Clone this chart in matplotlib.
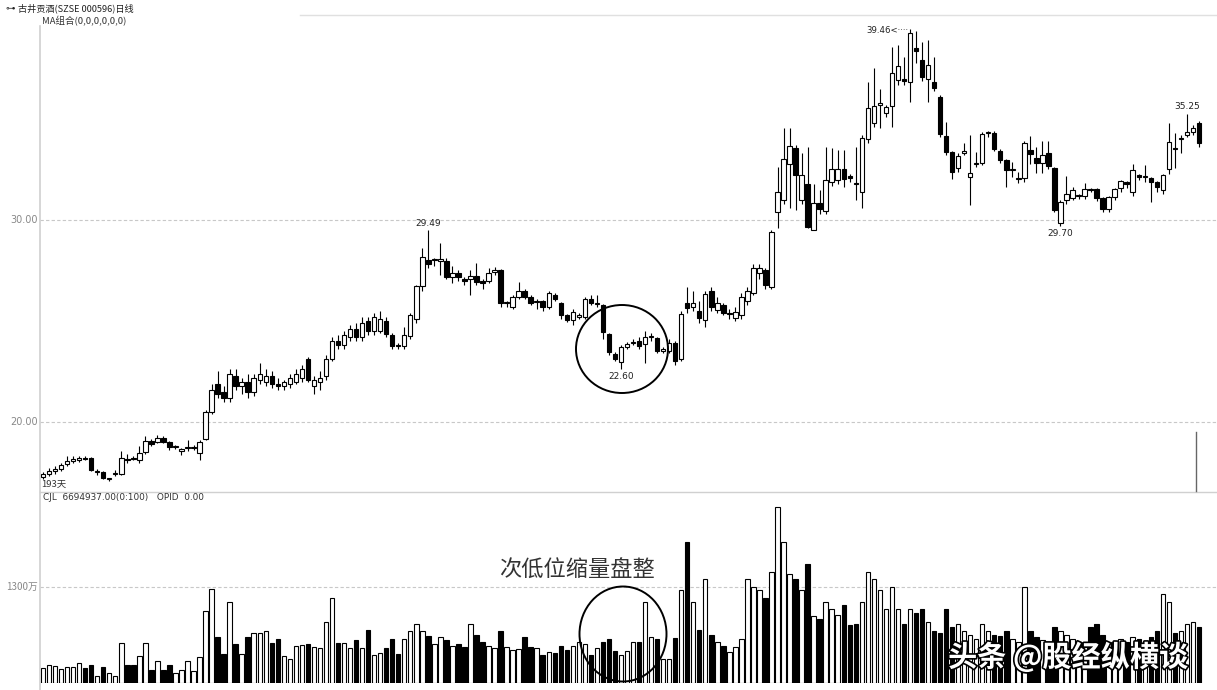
import matplotlib
matplotlib.use('Agg')
import matplotlib.pyplot as plt
from matplotlib.patches import Rectangle, Ellipse
import matplotlib.patheffects as pe

CJK = ['Noto Sans CJK SC', 'DejaVu Sans']

# ---------------- data (price in yuan, volume in 万 shares) ----------------
opens = [17.28, 17.45, 17.55, 17.65, 17.9, 18.05, 18.1, 18.2, 18.2, 17.5,
         17.5, 17.18, 17.42, 17.45, 18.15, 18.2, 18.1, 18.5, 19.05, 19.0,
         19.2, 19.0, 18.75, 18.55, 18.7, 18.7, 18.45, 19.15, 20.5, 21.9,
         21.5, 21.2, 22.3, 21.8, 22.0, 21.5, 22.1, 22.0, 22.3, 21.9,
         21.8, 21.9, 22.0, 22.2, 23.1, 21.8, 22.0, 22.3, 23.1, 24.0,
         23.8, 24.2, 24.6, 24.2, 25.0, 24.5, 24.5, 25.0, 24.3, 23.8,
         23.76, 24.26, 25.1, 26.73, 28.02, 28.0, 27.97, 27.97, 27.2, 27.4,
         27.1, 27.08, 27.23, 27.0, 27.0, 27.45, 27.5, 25.9, 25.7, 26.2,
         26.5, 26.2, 25.95, 26.0, 25.7, 26.3, 25.9, 25.3, 25.05, 25.2,
         25.2, 26.1, 25.85, 25.8, 24.35, 23.37, 22.97, 23.7, 23.9, 24.0,
         23.86, 24.2, 24.15, 23.5, 23.5, 23.9, 23.1, 25.9, 25.7, 25.5,
         25.05, 26.5, 25.55, 25.8, 25.35, 25.15, 25.3, 26.0, 26.4, 27.4,
         27.5, 26.7, 30.4, 30.99, 32.77, 33.56, 30.99, 31.78, 29.5, 30.84,
         30.45, 31.88, 31.98, 32.52, 32.18, 31.83, 31.39, 34.0, 34.8, 35.69,
         35.3, 35.64, 36.93, 36.98, 36.83, 38.51, 37.92, 36.98, 36.83, 36.09,
         34.16, 33.37, 32.57, 33.32, 32.13, 32.77, 32.82, 34.3, 34.31, 33.42,
         32.97, 32.48, 32.03, 32.08, 33.47, 33.07, 32.82, 33.32, 32.57, 29.85,
         30.99, 31.09, 31.19, 31.19, 31.53, 31.53, 31.09, 30.54, 31.14, 31.58,
         31.88, 31.39, 32.23, 32.13, 32.08, 31.88, 31.49, 32.52, 33.56, 34.01,
         34.2, 34.36, 34.8]
closes = [17.43, 17.55, 17.65, 17.85, 18.05, 18.15, 18.2, 18.17, 17.6, 17.55,
          17.25, 17.22, 17.47, 18.2, 18.1, 18.17, 18.45, 19.05, 18.9, 19.2,
          19.0, 18.75, 18.78, 18.65, 18.72, 18.72, 19.0, 20.5, 21.6, 21.4,
          21.2, 22.4, 21.8, 22.0, 21.5, 22.2, 22.4, 22.3, 21.9, 21.8,
          22.0, 22.2, 22.4, 22.6, 22.1, 22.1, 22.2, 23.1, 24.0, 23.8,
          24.3, 24.6, 24.2, 24.9, 24.5, 25.2, 25.1, 24.35, 23.76, 23.75,
          24.3, 25.3, 26.73, 28.17, 27.82, 28.05, 28.07, 27.18, 27.4, 27.17,
          26.98, 27.23, 26.93, 26.9, 27.4, 27.5, 25.9, 25.95, 26.2, 26.5,
          26.2, 25.9, 25.95, 25.7, 26.4, 26.1, 25.3, 25.05, 25.45, 25.3,
          26.1, 25.9, 25.85, 24.45, 23.45, 23.12, 23.7, 23.85, 23.9, 23.75,
          24.2, 24.22, 23.5, 23.6, 23.9, 23.0, 25.35, 25.65, 25.9, 25.15,
          26.35, 25.7, 25.9, 25.4, 25.38, 25.45, 26.2, 26.5, 27.6, 27.6,
          26.8, 29.4, 31.39, 33.02, 33.66, 32.23, 32.23, 29.65, 30.84, 30.54,
          31.98, 32.52, 32.52, 32.03, 32.08, 31.8, 34.06, 35.54, 35.64, 35.79,
          35.6, 37.28, 37.62, 36.88, 39.26, 38.37, 37.08, 37.67, 36.53, 34.26,
          33.37, 32.38, 33.17, 33.42, 32.33, 32.8, 34.26, 34.32, 33.51, 32.97,
          32.48, 32.5, 32.05, 33.81, 33.27, 32.82, 33.22, 32.67, 30.5, 30.89,
          31.29, 31.49, 31.22, 31.53, 31.49, 31.09, 30.54, 31.14, 31.53, 31.93,
          31.78, 32.48, 32.13, 32.15, 31.88, 31.63, 32.23, 33.86, 33.5, 34.06,
          34.36, 34.55, 33.81]
highs = [17.5, 17.7, 17.8, 17.95, 18.3, 18.3, 18.3, 18.3, 18.25, 17.65,
         17.55, 17.25, 17.6, 18.55, 18.4, 18.3, 18.8, 19.3, 19.15, 19.35,
         19.3, 19.05, 18.85, 18.7, 19.1, 18.85, 19.1, 20.6, 21.9, 22.5,
         21.8, 22.6, 22.6, 22.2, 22.4, 22.4, 22.9, 22.6, 22.5, 22.2,
         22.1, 22.4, 22.6, 22.8, 23.2, 22.3, 22.5, 23.3, 24.2, 24.3,
         24.5, 24.8, 24.9, 25.2, 25.2, 25.4, 25.5, 25.2, 24.4, 23.9,
         24.7, 25.4, 26.8, 28.6, 29.49, 28.1, 28.85, 28.1, 27.7, 27.5,
         27.2, 27.5, 27.87, 27.1, 27.6, 27.65, 27.55, 26.0, 26.3, 26.93,
         26.6, 26.3, 26.1, 26.05, 26.5, 26.4, 25.95, 25.35, 25.6, 25.4,
         26.2, 26.3, 26.3, 25.85, 24.4, 23.45, 23.8, 23.95, 24.1, 24.2,
         24.5, 24.4, 24.2, 23.7, 24.1, 24.0, 25.5, 26.7, 26.5, 26.0,
         26.5, 26.7, 26.2, 25.9, 25.6, 25.7, 26.4, 26.7, 27.8, 27.8,
         27.6, 29.5, 32.6, 34.55, 34.55, 33.7, 33.3, 33.6, 31.8, 31.5,
         33.6, 33.56, 33.47, 33.47, 32.3, 33.6, 34.2, 36.83, 37.5, 36.5,
         35.7, 38.56, 38.66, 38.07, 39.46, 39.36, 38.81, 38.9, 38.07, 36.2,
         34.85, 33.4, 33.3, 33.81, 34.2, 33.37, 34.35, 34.4, 34.4, 33.5,
         33.0, 32.87, 32.38, 33.9, 34.16, 33.61, 33.91, 33.91, 32.6, 31.0,
         32.18, 31.63, 31.3, 31.83, 31.6, 31.6, 31.15, 31.2, 31.6, 32.0,
         31.95, 32.77, 32.3, 32.72, 32.15, 31.95, 32.3, 34.8, 34.3, 34.2,
         35.25, 34.7, 34.9]
lows = [17.2, 17.35, 17.45, 17.55, 17.8, 17.95, 18.0, 18.1, 17.55, 17.4,
        17.2, 17.1, 17.35, 17.4, 17.95, 18.1, 17.95, 18.4, 18.8, 18.95,
        18.95, 18.6, 18.65, 18.35, 18.55, 18.6, 18.1, 19.1, 20.4, 21.2,
        21.0, 21.0, 21.6, 21.4, 21.2, 21.3, 21.9, 21.8, 21.7, 21.6,
        21.6, 21.7, 21.9, 22.0, 22.0, 21.4, 21.6, 22.1, 23.0, 23.6,
        23.6, 24.0, 24.0, 24.0, 24.3, 24.3, 24.4, 24.2, 23.6, 23.6,
        23.6, 24.1, 24.9, 26.5, 27.6, 27.7, 27.3, 27.1, 26.9, 27.0,
        26.8, 26.3, 26.8, 26.6, 26.9, 27.3, 25.7, 25.7, 25.6, 26.1,
        26.1, 25.8, 25.6, 25.5, 25.6, 26.0, 25.1, 24.95, 24.8, 25.1,
        25.1, 25.8, 25.7, 24.1, 23.3, 23.0, 22.6, 23.6, 23.8, 23.6,
        22.9, 24.0, 23.4, 23.4, 23.4, 22.8, 23.0, 25.4, 25.5, 24.9,
        24.7, 25.5, 25.4, 25.3, 25.1, 25.0, 25.1, 25.8, 26.3, 27.1,
        26.6, 26.6, 29.6, 30.8, 30.6, 30.5, 30.8, 29.6, 29.5, 30.3,
        30.3, 31.7, 31.8, 31.63, 31.9, 30.99, 30.6, 33.8, 34.6, 34.55,
        35.1, 34.6, 36.7, 36.7, 35.84, 37.77, 36.9, 35.84, 36.4, 34.1,
        33.2, 32.03, 32.4, 33.2, 30.74, 32.6, 32.7, 34.1, 33.4, 32.8,
        31.63, 32.13, 31.83, 31.9, 32.77, 32.33, 32.33, 32.5, 30.4, 29.70,
        30.8, 31.0, 31.05, 31.05, 31.4, 30.95, 30.4, 30.4, 31.0, 31.4,
        31.6, 31.2, 32.0, 31.9, 30.89, 31.4, 31.3, 32.3, 32.57, 33.3,
        34.1, 34.2, 33.6]
volumes = [200, 240, 230, 190, 220, 220, 270, 200, 240, 90,
           210, 140, 90, 540, 240, 240, 370, 540, 170, 300,
           180, 240, 140, 180, 300, 160, 350, 970, 1270, 620,
           390, 1090, 520, 390, 620, 670, 670, 700, 540, 600,
           370, 330, 500, 510, 520, 480, 470, 820, 1150, 540,
           540, 470, 580, 470, 720, 380, 400, 470, 600, 390,
           600, 700, 790, 700, 640, 520, 620, 580, 500, 520,
           480, 800, 650, 560, 500, 470, 700, 480, 450, 460,
           620, 480, 470, 380, 420, 410, 500, 450, 500, 560,
           520, 380, 470, 560, 600, 430, 380, 430, 560, 560,
           1100, 620, 600, 330, 320, 610, 1250, 1900, 1100, 720,
           1400, 650, 560, 500, 420, 480, 600, 1400, 1300, 1250,
           1150, 1500, 2370, 1900, 1470, 1400, 1250, 1600, 900, 860,
           1100, 1000, 920, 1050, 780, 800, 1100, 1500, 1400, 1250,
           1000, 1300, 1000, 800, 1000, 950, 1000, 820, 700, 680,
           1000, 760, 800, 700, 650, 600, 800, 700, 650, 640,
           700, 600, 560, 1300, 700, 620, 580, 550, 750, 700,
           650, 600, 560, 520, 750, 800, 650, 560, 560, 600,
           560, 620, 600, 550, 620, 700, 1200, 1100, 680, 700,
           800, 830, 750]

price_ticks = [20.0, 30.0]
price_tick_labels = ['20.00', '30.00']
vol_tick = 1300
vol_tick_label = '1300万'
marks = [(64, '29.49', 'high'), (96, '22.60', 'low'), (169, '29.70', 'low'), (190, '35.25', 'high')]
peak_index, peak_label = 144, '39.46'

n = len(opens)
assert len(closes) == n and len(highs) == n and len(lows) == n and len(volumes) == n

# ---------------- figure ----------------
W, H = 1217, 690
fig = plt.figure(figsize=(W / 100, H / 100), dpi=100)

def fx(px):
    return px / W

def fy(py):
    return 1 - py / H

left_px, right_px = 40, 1217
top_px, mid_px, bot_px = 14, 491, 683

ax1 = fig.add_axes([fx(left_px), fy(mid_px), fx(right_px - left_px), (mid_px - top_px) / H])
ax2 = fig.add_axes([fx(left_px), fy(bot_px), fx(right_px - left_px), (bot_px - mid_px) / H])

xmin, xmax = -0.5, 195.0
ax1.set_xlim(xmin, xmax)
ax2.set_xlim(xmin, xmax)
ax1.set_ylim(16.584, 40.198)
ax2.set_ylim(0, (bot_px - mid_px) / 96.3 * 1300)

for ax in (ax1, ax2):
    for s in ax.spines.values():
        s.set_visible(False)
    ax.set_xticks([])
    ax.set_yticks([])
    ax.patch.set_alpha(0)

bw = 0.74
for i in range(n):
    o, h, l, c = opens[i], highs[i], lows[i], closes[i]
    up = c >= o
    ax1.vlines(i, l, h, color='black', lw=0.8, zorder=2)
    bottom = min(o, c)
    height = max(abs(c - o), 0.05)
    ax1.add_patch(Rectangle((i - bw / 2, bottom), bw, height,
                            facecolor='white' if up else 'black',
                            edgecolor='black', lw=0.8, zorder=3))
    ax2.add_patch(Rectangle((i - bw / 2, 0), bw, volumes[i],
                            facecolor='white' if up else 'black',
                            edgecolor='black', lw=0.8, zorder=3))

# grid lines
for t in price_ticks:
    ax1.axhline(t, color='#c8c8c8', lw=0.8, ls=(0, (3, 2)), zorder=0)
ax2.axhline(vol_tick, color='#c8c8c8', lw=0.8, ls=(0, (3, 2)), zorder=0)

# tick labels on the left
for t, lab in zip(price_ticks, price_tick_labels):
    ax1.text(-0.0017, t, lab, transform=ax1.get_yaxis_transform(), ha='right', va='center',
             fontsize=7, color='#888888')
ax2.text(-0.0017, vol_tick, vol_tick_label, transform=ax2.get_yaxis_transform(), ha='right',
         va='center', fontsize=7, color='#888888', family=CJK)

# high/low marks
for idx, lab, kind in marks:
    if kind == 'high':
        ax1.annotate(lab, (idx, highs[idx]), xytext=(0, 2), textcoords='offset points',
                     ha='center', va='bottom', fontsize=6.5, color='#222222')
    else:
        ax1.annotate(lab, (idx, lows[idx]), xytext=(0, -2), textcoords='offset points',
                     ha='center', va='top', fontsize=6.5, color='#222222')
ax1.annotate(peak_label + '<····', (peak_index, highs[peak_index]), xytext=(-1, -1.5),
             textcoords='offset points', ha='right', va='center', fontsize=6.2, color='#222222')

# overlay in pixel coordinates for frame lines and annotations
ov = fig.add_axes([0, 0, 1, 1])
ov.set_xlim(0, W)
ov.set_ylim(H, 0)
ov.axis('off')
ov.patch.set_alpha(0)

ov.plot([left_px, left_px], [top_px + 12, H], color='#d0d0d0', lw=1.2)
ov.plot([left_px, W], [mid_px + 1, mid_px + 1], color='#d0d0d0', lw=1.0)
ov.plot([300, W], [15, 15], color='#e0e0e0', lw=1.0)
ov.plot([1196, 1196], [432, mid_px], color='#666666', lw=1.0)

ov.text(5, 8, '⊶', fontsize=6.8, va='center', ha='left', color='#222222')
ov.text(18, 8, '古井贡酒(SZSE 000596)日线', fontsize=6.6, family=CJK, va='center', ha='left', color='#222222')
ov.text(42, 21, 'MA组合(0,0,0,0,0,0)', fontsize=6.8, family=CJK, va='center', ha='left', color='#333333')
ov.text(41, 484, '193天', fontsize=6.8, family=CJK, va='center', ha='left', color='#333333')
ov.text(43, 498, 'CJL  6694937.00(0:100)   OPID  0.00', fontsize=6.4, va='center', ha='left', color='#333333')

ov.add_patch(Ellipse((622, 349), 92, 88, fill=False, edgecolor='black', lw=1.4))
ov.add_patch(Ellipse((623, 634), 87, 95, fill=False, edgecolor='black', lw=1.4))

ov.text(577, 570, '次低位缩量盘整', fontsize=16, family=CJK, ha='center', va='center', color='#333333')

ov.text(1068, 657, '头条 @股经纵横谈', fontsize=21, family=CJK, ha='center', va='center',
        color='white', fontweight='bold',
        path_effects=[pe.withStroke(linewidth=2.4, foreground='black')])

fig.savefig('out.png', dpi=100)
